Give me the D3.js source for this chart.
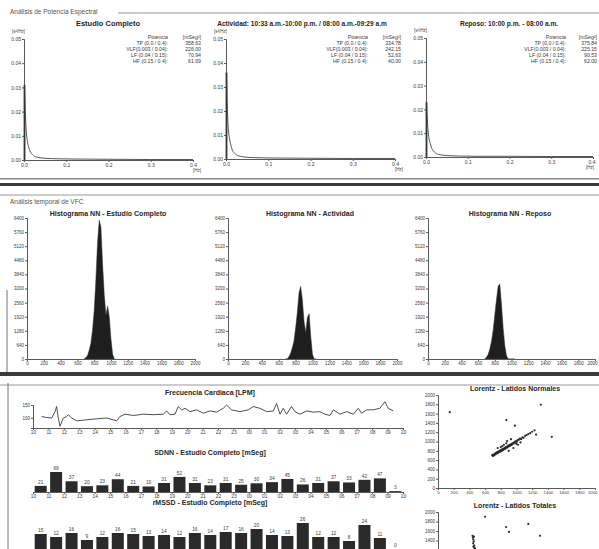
<!DOCTYPE html>
<html>
<head>
<meta charset="utf-8">
<script src="https://cdn.jsdelivr.net/npm/d3@7"></script>
<style>
  body { margin: 0; background: #fff; }
  svg { font-family: "Liberation Sans", Arial, sans-serif; }
</style>
</head>
<body>
<svg id="chart" width="599" height="549"></svg>
<script>
// ---- data ----
var specTitles = ["Estudio Completo",
  "Actividad: 10:33 a.m.-10:00 p.m. / 08:00 a.m.-09:29 a.m",
  "Reposo: 10:00 p.m. - 08:00 a.m."];
var specFreq = [0.001, 0.003, 0.005, 0.007, 0.01, 0.014, 0.02, 0.03, 0.05, 0.08, 0.12, 0.2, 0.3, 0.4];
var specCompleto  = [0.031, 0.020, 0.013, 0.009, 0.006, 0.0038, 0.0022, 0.0012, 0.0007, 0.0005, 0.0004, 0.0003, 0.0002, 0.0002];
var specActividad = [0.036, 0.022, 0.014, 0.010, 0.007, 0.0042, 0.0024, 0.0013, 0.0007, 0.0005, 0.0004, 0.0003, 0.0002, 0.0002];
var specReposo    = [0.023, 0.016, 0.011, 0.008, 0.0058, 0.0036, 0.0021, 0.0011, 0.0006, 0.0004, 0.0003, 0.0003, 0.0002, 0.0002];
var specTicksY = [0, 0.01, 0.02, 0.03, 0.04, 0.05];
var specTicksX = [0, 0.1, 0.2, 0.3, 0.4];
var bandLabels = ["Potencia", "TP (0.0 / 0.4):", "VLF(0.003 / 0.04):", "LF (0.04 / 0.15):", "HF (0.15 / 0.4):"];
var powCompleto  = ["[mSeg²]", "358.63", "226.00", "70.94", "61.69"];
var powActividad = ["[mSeg²]", "334.78", "242.15", "52.63", "40.00"];
var powReposo    = ["[mSeg²]", "375.84", "225.15", "90.53", "62.00"];

var histTitles = ["Histograma NN  - Estudio Completo", "Histograma NN  - Actividad", "Histograma NN  - Reposo"];
var histMs = [680, 700, 720, 740, 760, 780, 800, 820, 840, 860, 880, 900, 920, 940, 960, 980, 1000, 1020, 1040];
var histCompleto  = [0, 60, 150, 400, 700, 1300, 2200, 3600, 5300, 6300, 6000, 4300, 2900, 2000, 2400, 1900, 900, 200, 0];
var histActividad = [0, 0, 100, 250, 500, 800, 1400, 2100, 3000, 3300, 2700, 1700, 1200, 1900, 2050, 1000, 200, 0, 0];
var histReposo    = [0, 80, 200, 450, 800, 1300, 2000, 2700, 3300, 3400, 2500, 1400, 600, 150, 0, 0, 0, 0, 0];
var histTicksY = [0, 640, 1280, 1920, 2560, 3200, 3840, 4480, 5120, 5760, 6400];
var histTicksX = [0, 200, 400, 600, 800, 1000, 1200, 1400, 1600, 1800, 2000];

var hourTicks = d3.range(10, 35);
var hrHours = [10.56, 10.89, 11.21, 11.43, 11.53, 11.64, 11.75, 11.97, 12.18, 12.29, 12.51, 12.83, 13.48, 14.13, 14.78, 15.21,
  15.43, 15.64, 15.97, 16.51, 17.16, 17.80, 18.45, 18.67, 18.88, 19.21, 19.42, 19.64, 19.86, 20.18, 20.61, 21.05, 21.48,
  21.91, 22.34, 22.56, 22.88, 23.42, 23.96, 24.29, 24.72, 25.15, 25.59, 25.80, 26.02, 26.23, 26.45, 26.77, 26.99, 27.32,
  27.75, 28.18, 28.61, 28.94, 29.26, 29.48, 29.91, 30.34, 30.78, 31.10, 31.31, 31.64, 32.07, 32.50, 32.83, 33.04, 33.37];
var hrValues = [105, 101, 99, 124, 144, 99, 67, 99, 105, 112, 99, 88, 92, 96, 99, 92, 88, 105, 114, 109, 114, 112, 114, 127,
  112, 114, 144, 131, 137, 124, 131, 118, 127, 122, 137, 150, 131, 124, 131, 144, 137, 124, 127, 156, 114, 137, 114, 144,
  124, 114, 127, 122, 124, 114, 109, 131, 114, 124, 114, 137, 118, 131, 131, 137, 163, 137, 127];
var hrTicksY = [100, 150];

var sdnnValues  = [21, 69, 37, 20, 23, 44, 21, 19, 31, 52, 31, 23, 31, 25, 30, 34, 45, 26, 31, 37, 33, 42, 47, 3];
var rmssdValues = [15, 12, 16, 9, 12, 16, 15, 13, 14, 12, 16, 14, 17, 16, 20, 14, 13, 26, 12, 12, 8, 24, 11, 0];

var lorTicks = [0, 200, 400, 600, 800, 1000, 1200, 1400, 1600, 1800, 2000];
var lorTicksTop = [1400, 1600, 1800, 2000];
var lorNormales = [[690,705],[700,690],[705,720],[712,700],[720,730],[725,715],[730,745],[738,735],[745,760],[750,742],
  [758,770],[765,755],[772,785],[780,775],[785,800],[790,782],[798,810],[805,795],[812,825],[818,808],[825,835],[832,822],
  [840,850],[846,838],[852,865],[858,848],[865,880],[872,862],[880,890],[886,875],[893,905],[900,892],[908,920],[915,905],
  [922,935],[930,920],[938,950],[946,938],[955,968],[965,955],[975,990],[985,975],[995,1008],[1005,995],[1015,1030],
  [1030,1040],[1045,1060],[1060,1050],[1075,1090],[1090,1080],[1110,1120],[1130,1140],[1150,1160],[1175,1180],
  [1200,1210],[1230,1240],[820,900],[870,960],[900,800],[960,860],[1000,950],[760,860],[1050,980],[840,930],
  [1250,1150],[1450,1100],[1310,1790],[150,1630],[870,1460],[980,1340],[880,1010],[930,1050],[800,880],[1020,930]];
var lorTotales = [[440,1500],[445,1460],[450,1420],[455,1380],[448,1340],[460,1300],[452,1270],[465,1250],[470,1230],
  [458,1480],[868,1684],[905,1580],[1300,1500],[1150,1750],[600,1900]];

// ---- drawing ----
var svg = d3.select("#chart");
var INK = "#262626", AXIS = "#5a5a5a", TXT = "#3a3a3a";

function styleAxis(g, fs) {
  g.select(".domain").attr("stroke", AXIS).attr("stroke-width", 1);
  g.selectAll(".tick line").attr("stroke", AXIS);
  g.selectAll(".tick text").attr("font-size", fs).attr("fill", TXT)
    .attr("font-family", '"Liberation Sans", Arial, sans-serif');
}

// keep the last tick label of an axis that ends at the page edge inside the page
function endTick(g) {
  g.selectAll(".tick").filter(function (d, k, n) { return k === n.length - 1; })
    .select("text").attr("text-anchor", "end").attr("dx", 2);
}

function label(x, y, t, opt) {
  opt = opt || {};
  return svg.append("text").attr("x", x).attr("y", y).text(t)
    .attr("font-size", opt.size || 6)
    .attr("font-weight", opt.bold ? "bold" : "normal")
    .attr("text-anchor", opt.anchor || "start")
    .attr("fill", opt.fill || TXT);
}

var intFmt = d3.format("d");

// section frames
svg.append("rect").attr("width", 599).attr("height", 549).attr("fill", "#fff");
label(10, 14, "Análisis de Potencia Espectral", { size: 6.5, fill: "#555" });
svg.append("line").attr("x1", 118).attr("x2", 599).attr("y1", 13).attr("y2", 13).attr("stroke", "#999");
svg.append("rect").attr("x", 0).attr("y", 178).attr("width", 599).attr("height", 1.5).attr("fill", "#888");
svg.append("rect").attr("x", 0).attr("y", 183).attr("width", 599).attr("height", 3).attr("fill", "#3a3a3a");
svg.append("line").attr("x1", 0).attr("x2", 599).attr("y1", 195).attr("y2", 195).attr("stroke", "#999");
label(10, 204, "Análisis temporal de VFC", { size: 6.5, fill: "#555" });
svg.append("line").attr("x1", 7).attr("x2", 7).attr("y1", 290).attr("y2", 372).attr("stroke", "#777");
svg.append("rect").attr("x", 0).attr("y", 372).attr("width", 599).attr("height", 4).attr("fill", "#3a3a3a");
svg.append("line").attr("x1", 0).attr("x2", 599).attr("y1", 385).attr("y2", 385).attr("stroke", "#999");
svg.append("line").attr("x1", 8).attr("x2", 8).attr("y1", 383).attr("y2", 549).attr("stroke", "#777");

// spectral panels
var specLayout = [
  { ax: 24, x1: 193, top: 39, bot: 160, titleX: 108, tbl: 168, val: 201 },
  { ax: 226, x1: 395, top: 39, bot: 159, titleX: 302, tbl: 368, val: 401 },
  { ax: 426, x1: 593, top: 38, bot: 157, titleX: 509, tbl: 566, val: 597 }
];
var specSeries = [specCompleto, specActividad, specReposo];
var specPow = [powCompleto, powActividad, powReposo];

specLayout.forEach(function (p, i) {
  var x = d3.scaleLinear().domain([0, 0.4]).range([p.ax, p.x1]);
  var y = d3.scaleLinear().domain([0, 0.05]).range([p.bot, p.top]);
  label(p.titleX, 26, specTitles[i], { size: i === 0 ? 7.5 : 6.6, bold: true, anchor: "middle", fill: INK });

  svg.append("g").attr("transform", "translate(" + p.ax + ",0)")
    .call(d3.axisLeft(y).tickValues(specTicksY).tickFormat(d3.format(".2f")).tickSize(2).tickPadding(1))
    .call(styleAxis, 5);
  var xa = svg.append("g").attr("transform", "translate(0," + p.bot + ")")
    .call(d3.axisBottom(x).tickValues(specTicksX).tickFormat(d3.format(".1f")).tickSize(2).tickPadding(1))
    .call(styleAxis, 5);
  if (i === 2) xa.call(endTick);
  label(p.ax - 12, p.top - 6, "[s²/Hz]", { size: 4.5 });
  label(Math.min(p.x1, 586), p.bot + 12, "[Hz]", { size: 4.5 });

  var pts = specFreq.map(function (f, k) { return [f, specSeries[i][k]]; });
  svg.append("path").datum(pts)
    .attr("d", d3.line().x(function (d) { return x(d[0]); }).y(function (d) { return y(d[1]); }).curve(d3.curveMonotoneX))
    .attr("fill", "none").attr("stroke", "#555").attr("stroke-width", 1);
  svg.append("line").attr("x1", x(0.0012)).attr("x2", x(0.0012))
    .attr("y1", y(0)).attr("y2", y(specSeries[i][0]))
    .attr("stroke", "#333").attr("stroke-width", 1.8);

  bandLabels.forEach(function (t, k) {
    label(p.tbl, 39 + k * 6, t, { size: 5.2, anchor: "end" });
    label(p.val, 39 + k * 6, specPow[i][k], { size: 5.2, anchor: "end" });
  });
});

// NN histograms
var histLayout = [
  { ax: 27, x1: 195, titleX: 108 },
  { ax: 228, x1: 397, titleX: 310 },
  { ax: 428, x1: 595, titleX: 510 }
];
var histSeries = [histCompleto, histActividad, histReposo];
histLayout.forEach(function (p, i) {
  var x = d3.scaleLinear().domain([0, 2000]).range([p.ax, p.x1]);
  var y = d3.scaleLinear().domain([0, 6400]).range([359, 218]);
  label(p.titleX, 216, histTitles[i], { size: 7, bold: true, anchor: "middle", fill: INK });
  var pts = histMs.map(function (m, k) { return [m, histSeries[i][k]]; });
  svg.append("path").datum(pts)
    .attr("d", d3.area().x(function (d) { return x(d[0]); }).y0(y(0)).y1(function (d) { return y(d[1]); }))
    .attr("fill", "#1e1e1e").attr("stroke", "#333").attr("stroke-width", 0.5);
  svg.append("g").attr("transform", "translate(" + p.ax + ",0)")
    .call(d3.axisLeft(y).tickValues(histTicksY).tickFormat(intFmt).tickSize(2).tickPadding(1))
    .call(styleAxis, 4.5);
  var xa = svg.append("g").attr("transform", "translate(0,359)")
    .call(d3.axisBottom(x).tickValues(histTicksX).tickFormat(intFmt).tickSize(2).tickPadding(1))
    .call(styleAxis, 4.5);
  if (i === 2) xa.call(endTick);
});

// heart rate trend
var hx = d3.scaleLinear().domain([10, 34]).range([33, 403]);
var hy = d3.scaleLinear().domain([60, 150]).range([428, 405]);
var hourFmt = function (h) { return String(h % 24).padStart(2, "0"); };
label(210, 395, "Frecuencia Cardiaca [LPM]", { size: 7, bold: true, anchor: "middle", fill: INK });
svg.append("g").attr("transform", "translate(0,428)")
  .call(d3.axisBottom(hx).tickValues(hourTicks).tickFormat(hourFmt).tickSize(2).tickPadding(1))
  .call(styleAxis, 4.8);
svg.append("g").attr("transform", "translate(33,0)")
  .call(d3.axisLeft(hy).tickValues(hrTicksY).tickSize(2).tickPadding(1))
  .call(styleAxis, 4.5);
svg.append("path").datum(hrHours.map(function (h, k) { return [h, hrValues[k]]; }))
  .attr("d", d3.line().x(function (d) { return hx(d[0]); }).y(function (d) { return hy(d[1]); }))
  .attr("fill", "none").attr("stroke", "#3a3a3a").attr("stroke-width", 0.9);

// hourly bars
function hourBars(values, title, titleY, base, pxPerUnit, withAxis) {
  var by = d3.scaleLinear().domain([0, 100]).range([base, base - 100 * pxPerUnit]);
  label(210, titleY, title, { size: 7, bold: true, anchor: "middle", fill: INK });
  if (withAxis) {
    svg.append("g").attr("transform", "translate(0," + base + ")")
      .call(d3.axisBottom(hx).tickValues(hourTicks).tickFormat(hourFmt).tickSize(2).tickPadding(1))
      .call(styleAxis, 4.8);
  }
  svg.append("g").selectAll("rect").data(values).enter().append("rect")
    .attr("x", function (d, k) { return hx(10 + k + 0.5) - 6; })
    .attr("width", 12)
    .attr("y", function (d) { return by(d); })
    .attr("height", function (d) { return base - by(d); })
    .attr("fill", "#2a2a2a");
  svg.append("g").selectAll("text").data(values).enter().append("text")
    .attr("x", function (d, k) { return hx(10 + k + 0.5); })
    .attr("y", function (d) { return by(d) - 2; })
    .attr("text-anchor", "middle").attr("font-size", 4.8).attr("fill", TXT)
    .text(function (d) { return d; });
}
hourBars(sdnnValues, "SDNN - Estudio Completo [mSeg]", 455, 492, 0.29, true);
hourBars(rmssdValues, "rMSSD - Estudio Completo [mSeg]", 505, 549, 1.0, false);

// Lorentz plots
function lorentz(points, title, titleY, yZero, yTop, ticksY) {
  var lx = d3.scaleLinear().domain([0, 2000]).range([438, 595]);
  var ly = d3.scaleLinear().domain([0, 2000]).range([yZero, yTop]);
  label(515, titleY, title, { size: 7, bold: true, anchor: "middle", fill: INK });
  svg.append("g").attr("transform", "translate(438,0)")
    .call(d3.axisLeft(ly).tickValues(ticksY).tickFormat(intFmt).tickSize(2).tickPadding(1))
    .call(styleAxis, 4.5);
  if (yZero < 549) {
    svg.append("g").attr("transform", "translate(0," + yZero + ")")
      .call(d3.axisBottom(lx).tickValues(lorTicks).tickFormat(intFmt).tickSize(2).tickPadding(1))
      .call(styleAxis, 4.3)
      .call(endTick);
  }
  svg.append("g").selectAll("circle").data(points).enter().append("circle")
    .attr("cx", function (d) { return lx(d[0]); })
    .attr("cy", function (d) { return ly(d[1]); })
    .attr("r", 1.1).attr("fill", "#2a2a2a");
}
lorentz(lorNormales, "Lorentz - Latidos Normales", 391, 488, 395, lorTicks);
lorentz(lorTotales, "Lorentz - Latidos Totales", 508, 607, 512, lorTicksTop);
</script>
</body>
</html>
